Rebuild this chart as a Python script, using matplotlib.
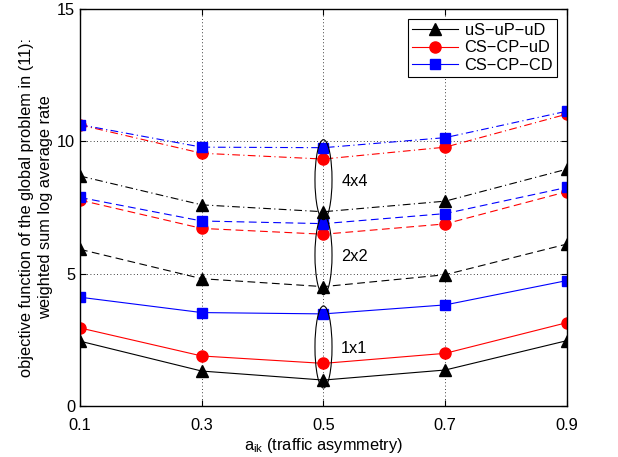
import numpy as np
import matplotlib
matplotlib.use("Agg")
import matplotlib.pyplot as plt
from matplotlib.patches import Ellipse

plt.rcParams['font.family'] = ['Liberation Sans', 'DejaVu Sans']

# --- donnees ---
a_ik = [0.1, 0.3, 0.5, 0.7, 0.9]

# 1x1 (trait plein)
us_1x1 = [2.45, 1.32, 0.98, 1.36, 2.47]
cs_ud_1x1 = [2.95, 1.89, 1.61, 1.99, 3.15]
cs_cd_1x1 = [4.11, 3.53, 3.48, 3.82, 4.74]

# 2x2 (tirets)
us_2x2 = [5.92, 4.81, 4.51, 4.96, 6.12]
cs_ud_2x2 = [7.78, 6.71, 6.49, 6.88, 8.10]
cs_cd_2x2 = [7.88, 6.99, 6.89, 7.27, 8.26]

# 4x4 (tiret-point)
us_4x4 = [8.69, 7.60, 7.34, 7.74, 8.95]
cs_ud_4x4 = [10.62, 9.55, 9.33, 9.78, 11.03]
cs_cd_4x4 = [10.63, 9.78, 9.76, 10.14, 11.14]

series_names = ['uS\u2212uP\u2212uD', 'CS\u2212CP\u2212uD', 'CS\u2212CP\u2212CD']
group_labels = ['1x1', '2x2', '4x4']

FS = 11.8

fig = plt.figure(figsize=(6.18, 4.57), dpi=100)
ax = fig.add_axes([0.1294, 0.1116, 0.7881, 0.8687])

styles = [('k', '^', 8), ('r', 'o', 8), ('b', 's', 6.5)]
groups = [
    ('-', [us_1x1, cs_ud_1x1, cs_cd_1x1]),
    ((0, (7, 4)), [us_2x2, cs_ud_2x2, cs_cd_2x2]),
    ((0, (7, 3, 1, 3)), [us_4x4, cs_ud_4x4, cs_cd_4x4]),
]
for gi, (ls, data) in enumerate(groups):
    for si, vals in enumerate(data):
        c, m, ms = styles[si]
        ax.plot(a_ik, vals, color=c, linestyle=ls, linewidth=0.8, marker=m,
                markersize=ms, markerfacecolor=c, markeredgecolor=c,
                label=series_names[si] if gi == 0 else None)

# ellipses autour des points a 0.5
for gi, (ls, data) in enumerate(groups):
    col = [d[2] for d in data]
    lo, hi = min(col), max(col)
    cy = (lo + hi) / 2
    h = (hi - lo) + 0.6
    ax.add_patch(Ellipse((0.5, cy), 0.028, h, fill=False, edgecolor='k',
                         linewidth=0.8, zorder=5))
    ax.text(0.529, cy - 0.05, group_labels[gi], fontsize=FS, va='center', ha='left')

ax.set_xlim(0.1, 0.9)
ax.set_ylim(0, 15)
ax.set_xticks(a_ik)
ax.set_xticklabels(['0.1', '0.3', '0.5', '0.7', '0.9'])
ax.set_yticks([0, 5, 10, 15])
ax.tick_params(direction='in', labelsize=FS, length=4, top=True, right=True)
ax.tick_params(axis='x', pad=9)
ax.grid(True, linestyle=(0, (1, 3)), color='k', linewidth=0.6)
for s in ax.spines.values():
    s.set_linewidth(1.0)

ax.set_xlabel(r'a$_{\mathregular{ik}}$ (traffic asymmetry)', fontsize=FS, labelpad=2)
ax.set_ylabel('objective function of the global problem in (11):\nweighted sum log average rate',
              fontsize=FS, labelpad=3, linespacing=1.35)

leg = ax.legend(loc='upper right', fontsize=FS, fancybox=False, framealpha=1,
                edgecolor='k', borderpad=0.25, labelspacing=0.15, handlelength=2.8,
                handletextpad=0.4, borderaxespad=0.6)
leg.get_frame().set_linewidth(0.8)

plt.savefig('out.png', dpi=100)
